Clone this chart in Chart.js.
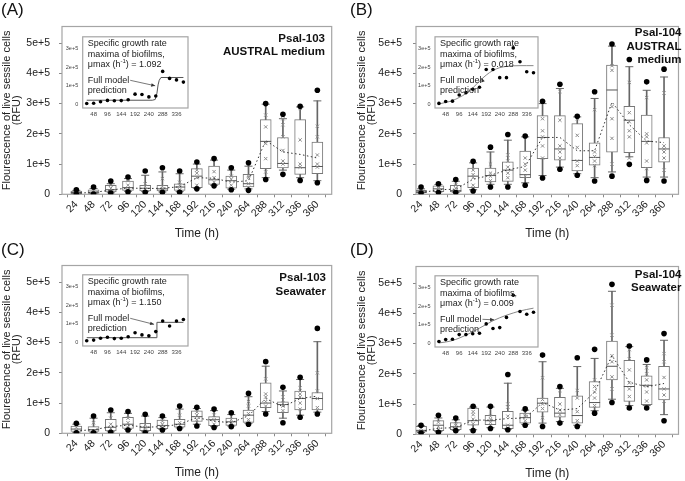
<!DOCTYPE html>
<html>
<head>
<meta charset="utf-8">
<script src="https://cdn.jsdelivr.net/npm/chart.js@4.4.1/dist/chart.umd.min.js"></script>
<style>
  body { margin: 0; background: #fff; }
  #wrap { position: relative; width: 685px; height: 481px; overflow: hidden; font-family: "Liberation Sans", Arial, sans-serif; color: #111; }
  canvas { position: absolute; }
  .tag { position: absolute; font-size: 17px; line-height: 17px; }
  .name { position: absolute; font-weight: bold; font-size: 11.5px; line-height: 13.5px; text-align: right; white-space: nowrap; }
</style>
</head>
<body>
<div id="wrap">
  <canvas id="mainA" width="342" height="240" style="left:0;top:0"></canvas>
  <canvas id="mainB" width="330" height="240" style="left:355px;top:0"></canvas>
  <canvas id="mainC" width="342" height="240" style="left:0;top:239px"></canvas>
  <canvas id="mainD" width="330" height="240" style="left:355px;top:240px"></canvas>
  <canvas id="insetA" width="134" height="92" style="left:58px;top:29px"></canvas>
  <canvas id="insetB" width="132" height="92" style="left:410px;top:29px"></canvas>
  <canvas id="insetC" width="134" height="92" style="left:58px;top:267px"></canvas>
  <canvas id="insetD" width="132" height="92" style="left:410px;top:268px"></canvas>

  <div class="tag" style="left:1px;top:1px">(A)</div>
  <div class="tag" style="left:350px;top:1px">(B)</div>
  <div class="tag" style="left:1px;top:241px">(C)</div>
  <div class="tag" style="left:350px;top:241px">(D)</div>

  <div class="name" style="right:360px;top:31.5px">Psal-103<br>AUSTRAL medium</div>
  <div class="name" style="right:3.5px;top:26.3px">Psal-104<br>AUSTRAL<br>medium</div>
  <div class="name" style="right:359px;top:271px">Psal-103<br>Seawater</div>
  <div class="name" style="right:3.5px;top:267.5px">Psal-104<br>Seawater</div>
</div>
<script>
const FONT = '"Liberation Sans", Arial, sans-serif';

// time points (h) and axis ticks; fluorescence values are in units of 1e+5 RFU
const hours = [24, 48, 72, 96, 120, 144, 168, 192, 216, 240, 264, 288, 312, 336, 360];
const yTicks = [0, 1, 2, 3, 4, 5];
const insetXTicks = [48, 96, 144, 192, 240, 288, 336];
const insetYTicks = [0, 1, 2, 3];

// (A) Psal-103, AUSTRAL medium
const aLowDot    = [0.00, 0.01, 0.04, 0.08, 0.07, 0.07, 0.07, 0.18, 0.28, 0.15, 0.13, 0.49, 0.66, 0.46, 0.38];
const aLowWhisk  = [0.01, 0.02, 0.05, 0.10, 0.09, 0.08, 0.09, 0.20, 0.30, 0.17, 0.18, 0.55, 0.80, 0.55, 0.45];
const aQ1        = [0.02, 0.03, 0.08, 0.13, 0.11, 0.11, 0.13, 0.22, 0.33, 0.20, 0.24, 0.85, 0.87, 0.66, 0.68];
const aMedian    = [0.06, 0.07, 0.15, 0.22, 0.20, 0.18, 0.24, 0.60, 0.48, 0.45, 0.35, 1.75, 1.02, 0.88, 0.92];
const aQ3        = [0.11, 0.15, 0.30, 0.44, 0.30, 0.30, 0.35, 0.85, 0.93, 0.60, 0.66, 2.47, 1.88, 2.47, 1.73];
const aHighWhisk = [0.13, 0.19, 0.35, 0.52, 0.63, 0.74, 0.68, 1.00, 1.13, 0.80, 0.93, 2.98, 2.50, 2.89, 3.09];
const aHighDot   = [0.15, 0.24, 0.44, 0.57, 0.77, 0.88, 0.77, 1.07, 1.18, 0.88, 1.04, 3.00, 2.65, 2.91, 3.44];
const aMean      = [0.04, 0.06, 0.14, 0.21, 0.19, 0.20, 0.25, 0.55, 0.53, 0.40, 0.45, 1.78, 1.40, 1.32, 1.20];
const aPoints = [[0.04, 0.08], [0.05, 0.12], [0.10, 0.20, 0.30], [0.15, 0.30, 0.45, 0.50], [0.15, 0.25, 0.35],
  [0.12, 0.25, 0.52], [0.15, 0.30, 0.40], [0.30, 0.55, 0.70, 0.80], [0.40, 0.55, 0.75], [0.30, 0.50, 0.60],
  [0.35, 0.55, 0.60], [0.74, 1.18, 1.68, 2.23, 2.62], [1.00, 1.10, 1.45, 1.90, 2.30, 2.50], [0.90, 1.00, 1.80, 2.85],
  [0.90, 1.00, 1.30, 1.90, 2.25]];
const aFitHours = [24, 252, 262, 268, 272, 276, 282, 360];
const aFit      = [0.22, 0.22, 0.26, 0.60, 1.05, 1.30, 1.45, 1.45];

// (B) Psal-104, AUSTRAL medium
const bLowDot    = [0.04, 0.06, 0.06, 0.11, 0.24, 0.24, 0.30, 0.54, 0.83, 0.63, 0.44, 0.60, 0.99, 0.46, 0.44];
const bLowWhisk  = [0.05, 0.08, 0.07, 0.15, 0.33, 0.33, 0.38, 0.62, 0.90, 0.68, 0.55, 0.74, 1.24, 0.57, 0.57];
const bQ1        = [0.05, 0.09, 0.08, 0.22, 0.41, 0.43, 0.55, 1.18, 1.13, 0.77, 0.96, 1.39, 1.38, 0.88, 1.06];
const bMedian    = [0.08, 0.18, 0.12, 0.60, 0.62, 0.80, 0.65, 1.88, 1.50, 1.12, 1.22, 3.45, 2.45, 1.75, 1.50];
const bQ3        = [0.13, 0.28, 0.30, 0.87, 0.87, 1.07, 1.43, 2.60, 2.60, 2.34, 1.70, 4.27, 2.91, 2.62, 1.88];
const bHighWhisk = [0.18, 0.32, 0.43, 1.04, 1.40, 1.79, 1.90, 3.00, 3.50, 2.56, 3.17, 4.90, 4.22, 3.44, 3.88];
const bHighDot   = [0.24, 0.35, 0.49, 1.09, 1.56, 1.98, 1.93, 3.08, 3.64, 2.58, 3.39, 4.97, 4.46, 3.72, 4.14];
const bMean      = [0.05, 0.15, 0.17, 0.50, 0.63, 0.81, 0.92, 1.88, 1.88, 1.44, 1.44, 3.05, 2.30, 1.76, 1.71];
const bPoints = [[0.06, 0.10], [0.10, 0.20, 0.25], [0.10, 0.20, 0.30], [0.30, 0.55, 0.65, 0.80], [0.45, 0.60, 0.70, 1.00],
  [0.55, 0.70, 0.90, 1.10, 1.30], [0.60, 0.80, 1.00, 1.20], [1.20, 1.60, 1.90, 2.10, 2.50], [1.20, 1.40, 1.60, 2.45, 3.40],
  [0.95, 1.10, 1.55, 1.95, 2.50], [0.95, 1.10, 1.25, 1.40, 2.80], [1.00, 1.85, 2.50, 2.90, 4.10, 4.25],
  [1.20, 1.90, 2.10, 2.40, 2.70, 3.70], [0.85, 1.10, 1.70, 1.90, 2.00, 3.20], [0.80, 1.20, 1.40, 1.50, 1.60, 3.35]];
const bFitHours = hours;
const bFit      = [0.02, 0.10, 0.20, 0.37, 0.58, 0.88, 1.25, 1.58, 1.83, 1.98, 2.05, 2.08, 2.09, 2.09, 2.09];

// (C) Psal-103, Seawater
const cLowDot    = [0.02, 0.02, 0.03, 0.11, 0.02, 0.11, 0.16, 0.24, 0.19, 0.22, 0.30, 0.64, 0.35, 0.53, 0.64];
const cLowWhisk  = [0.03, 0.03, 0.05, 0.13, 0.05, 0.13, 0.18, 0.30, 0.22, 0.24, 0.33, 0.72, 0.50, 0.60, 0.70];
const cQ1        = [0.06, 0.06, 0.08, 0.16, 0.09, 0.15, 0.20, 0.39, 0.25, 0.26, 0.36, 0.85, 0.68, 0.77, 0.77];
const cMedian    = [0.14, 0.12, 0.20, 0.30, 0.20, 0.26, 0.30, 0.55, 0.45, 0.38, 0.60, 1.00, 0.95, 1.15, 1.15];
const cQ3        = [0.24, 0.22, 0.46, 0.53, 0.33, 0.44, 0.46, 0.74, 0.55, 0.50, 0.77, 1.67, 1.04, 1.40, 1.35];
const cHighWhisk = [0.30, 0.50, 0.68, 0.66, 0.57, 0.52, 0.80, 0.82, 0.75, 0.62, 1.21, 2.22, 1.40, 1.78, 3.03];
const cHighDot   = [0.33, 0.57, 0.77, 0.72, 0.63, 0.57, 0.90, 0.86, 0.80, 0.68, 1.32, 2.37, 1.52, 1.85, 3.47];
const cMean      = [0.08, 0.12, 0.22, 0.27, 0.20, 0.22, 0.30, 0.52, 0.40, 0.35, 0.58, 1.15, 0.88, 1.15, 1.23];
const cPoints = [[0.08, 0.20], [0.08, 0.35], [0.15, 0.30, 0.50], [0.20, 0.35, 0.50], [0.10, 0.18, 0.28],
  [0.20, 0.30, 0.40], [0.25, 0.35, 0.60], [0.45, 0.60, 0.70], [0.30, 0.45, 0.60], [0.30, 0.35, 0.45],
  [0.45, 0.65, 0.90, 1.05], [0.90, 1.05, 1.20, 1.30, 1.80], [0.75, 0.90, 1.00, 1.20], [0.80, 1.00, 1.20, 1.30, 1.50],
  [0.85, 1.15, 1.40, 2.00]];
const cFitHours = [24, 265, 268, 360];
const cFit      = [0.25, 0.25, 1.08, 1.08];

// (D) Psal-104, Seawater
const dLowDot    = [0.04, 0.07, 0.12, 0.12, 0.19, 0.15, 0.30, 0.26, 0.37, 0.26, 0.70, 1.05, 0.87, 0.87, 0.45];
const dLowWhisk  = [0.06, 0.09, 0.13, 0.15, 0.22, 0.17, 0.33, 0.37, 0.42, 0.30, 0.78, 1.16, 0.95, 0.95, 0.65];
const dQ1        = [0.08, 0.12, 0.15, 0.30, 0.32, 0.19, 0.37, 0.73, 0.57, 0.37, 0.89, 1.80, 1.09, 0.98, 1.14];
const dMedian    = [0.13, 0.30, 0.25, 0.45, 0.45, 0.30, 0.55, 1.03, 0.70, 0.62, 1.05, 2.25, 1.58, 1.62, 1.50];
const dQ3        = [0.26, 0.45, 0.39, 0.87, 0.63, 0.76, 0.70, 1.20, 1.22, 1.27, 1.74, 3.08, 2.45, 1.93, 2.25];
const dHighWhisk = [0.28, 0.54, 0.48, 0.90, 0.90, 1.69, 0.80, 2.40, 1.52, 2.24, 2.51, 4.73, 2.90, 2.31, 3.11];
const dHighDot   = [0.30, 0.63, 0.54, 0.93, 0.93, 1.98, 0.84, 2.62, 1.58, 2.53, 2.81, 4.96, 2.92, 2.46, 3.33];
const dMean      = [0.10, 0.20, 0.22, 0.47, 0.47, 0.52, 0.54, 1.05, 0.80, 0.85, 1.40, 2.60, 1.72, 1.57, 1.68];
const dPoints = [[0.10, 0.20], [0.15, 0.25, 0.40], [0.20, 0.30, 0.35], [0.35, 0.50, 0.65, 0.75], [0.40, 0.50, 0.60],
  [0.30, 0.60, 0.90, 1.00], [0.45, 0.60, 0.65], [0.55, 0.85, 1.00, 1.15, 1.87], [0.65, 0.80, 1.00, 1.45],
  [0.45, 0.75, 1.20, 1.45], [0.95, 1.20, 1.40, 1.58, 1.80], [1.50, 1.90, 2.40, 2.60, 3.28, 4.27],
  [1.25, 1.50, 1.70, 2.13, 2.50, 2.80], [1.10, 1.40, 1.60, 1.80, 2.00, 2.20], [1.10, 1.30, 1.50, 1.88, 2.40, 2.67]];
const dFitHours = hours;
const dFit      = [0.02, 0.07, 0.15, 0.28, 0.44, 0.62, 0.82, 1.02, 1.22, 1.38, 1.52, 1.64, 1.75, 1.83, 1.90];

function pts(arr) { return arr.map((v, i) => ({ x: hours[i], y: v })); }
function e5(v) { return v === 0 ? '0' : v + 'e+5'; }

// gray frame round the plot area
const frame = {
  id: 'frame',
  beforeDatasetsDraw(chart) {
    const a = chart.chartArea, ctx = chart.ctx;
    ctx.save();
    ctx.fillStyle = '#fff';
    ctx.fillRect(a.left, a.top, a.width, a.height);
    ctx.strokeStyle = '#a5a5a5';
    ctx.lineWidth = 1.2;
    ctx.strokeRect(a.left, a.top, a.width, a.height);
    ctx.restore();
  }
};

// text block and arrow inside each inset
const insetNote = {
  id: 'insetNote',
  afterDatasetsDraw(chart, args, o) {
    const a = chart.chartArea, ctx = chart.ctx;
    const x0 = a.left + 5;
    ctx.save();
    ctx.fillStyle = '#222';
    ctx.textAlign = 'left';
    ctx.textBaseline = 'middle';
    ctx.font = '9px ' + FONT;
    ctx.fillText('Specific growth rate', x0, a.top + 7);
    ctx.fillText('maxima of biofilms,', x0, a.top + 17.5);
    let x = x0;
    const y = a.top + 28;
    ctx.fillText('\u03bcmax (h', x, y);
    x += ctx.measureText('\u03bcmax (h').width;
    ctx.font = '6px ' + FONT;
    ctx.fillText('-1', x, y - 3.5);
    x += ctx.measureText('-1').width;
    ctx.font = '9px ' + FONT;
    ctx.fillText(') = ' + o.mu, x, y);
    ctx.fillText('Full model', x0, a.top + 43.5);
    ctx.fillText('prediction', x0, a.top + 53.5);

    const sx = x0 + ctx.measureText('Full model').width + 1, sy = a.top + 43.5;
    const tx = chart.scales.x.getPixelForValue(o.tip[0]);
    const ty = chart.scales.y.getPixelForValue(o.tip[1]);
    const ang = Math.atan2(ty - sy, tx - sx);
    ctx.strokeStyle = '#555';
    ctx.lineWidth = 0.8;
    ctx.beginPath();
    ctx.moveTo(sx, sy);
    ctx.lineTo(tx, ty);
    ctx.stroke();
    ctx.fillStyle = '#333';
    ctx.beginPath();
    ctx.moveTo(tx, ty);
    ctx.lineTo(tx - 4 * Math.cos(ang) + 1.8 * Math.sin(ang), ty - 4 * Math.sin(ang) - 1.8 * Math.cos(ang));
    ctx.lineTo(tx - 4 * Math.cos(ang) - 1.8 * Math.sin(ang), ty - 4 * Math.sin(ang) + 1.8 * Math.cos(ang));
    ctx.closePath();
    ctx.fill();
    ctx.restore();
  }
};

// short outward tick marks, no grid
const tickMarks = { display: true, drawOnChartArea: false, drawTicks: true, tickLength: 3, color: '#8a8a8a', lineWidth: 1 };

function drawMain(id, g, s) {
  new Chart(document.getElementById(id), {
    type: 'scatter',
    data: {
      datasets: [
        { type: 'line', data: pts(s.mean), borderColor: '#333', borderWidth: 1, borderDash: [1.5, 2.5], pointRadius: 0, fill: false, order: 1 },
        { type: 'bar', data: hours.map((h, i) => ({ x: h, y: [s.lowWhisk[i], s.highWhisk[i]] })),
          barThickness: 1, backgroundColor: '#666', grouped: false, order: 8 },
        { type: 'bar', data: hours.map((h, i) => ({ x: h, y: [s.q1[i], s.q3[i]] })),
          barThickness: 11, backgroundColor: '#fff', borderColor: '#777', borderWidth: 1, borderSkipped: false, grouped: false, order: 7 },
        { data: pts(s.lowWhisk).concat(pts(s.highWhisk)), pointStyle: 'line', pointRadius: 4, pointBorderColor: '#666', pointBorderWidth: 1, order: 6 },
        { data: pts(s.median), pointStyle: 'line', pointRadius: 5.5, pointBorderColor: '#555', pointBorderWidth: 1, order: 5 },
        { data: s.points.flatMap((arr, i) => arr.map(v => ({ x: hours[i], y: v }))),
          pointStyle: 'crossRot', pointRadius: 2.3, pointBorderColor: '#8c8c8c', pointBorderWidth: 1, order: 4 },
        { data: pts(s.lowDot).concat(pts(s.highDot)), pointStyle: 'circle', pointRadius: 2.8,
          pointBackgroundColor: '#000', pointBorderColor: '#000', pointBorderWidth: 0, order: 0 }
      ]
    },
    options: {
      responsive: false,
      animation: false,
      events: [],
      layout: { padding: { left: 0, right: g.padR, top: 26.5, bottom: 0 } },
      plugins: { legend: { display: false }, tooltip: { enabled: false } },
      scales: {
        x: {
          type: 'linear', min: g.xMin, max: g.xMax, offset: false,
          afterBuildTicks: sc => { sc.ticks = hours.map(v => ({ value: v })); },
          afterFit: sc => { sc.height = 45.7; },
          grid: tickMarks,
          border: { display: false },
          ticks: { autoSkip: false, minRotation: 45, maxRotation: 45, padding: 1, color: '#222', font: { size: 10.5, family: FONT } },
          title: { display: true, text: 'Time (h)', color: '#222', padding: 0, font: { size: 12, family: FONT, lineHeight: 1 } }
        },
        y: {
          min: 0, max: 5.55,
          afterBuildTicks: sc => { sc.ticks = yTicks.map(v => ({ value: v })); },
          afterFit: sc => { sc.width = g.leftW; },
          grid: tickMarks,
          border: { display: false },
          ticks: { padding: g.tickPad, color: '#222', font: { size: 10.5, family: FONT }, callback: e5 },
          title: { display: true, text: ['Flourescence of live sessile cells', '(RFU)'], color: '#222',
                   padding: { top: 2.5, bottom: 0 }, font: { size: 11, family: FONT, lineHeight: 0.9 } }
        }
      }
    },
    plugins: [frame]
  });
}

function drawInset(id, g, mean, fitHours, fit, look) {
  new Chart(document.getElementById(id), {
    type: 'scatter',
    data: {
      datasets: [
        { type: 'line', data: fitHours.map((h, i) => ({ x: h, y: fit[i] })), borderColor: look.line, borderWidth: 1,
          pointRadius: 0, fill: false, cubicInterpolationMode: look.smooth ? 'monotone' : 'default', order: 1 },
        { data: pts(mean), pointRadius: 1.8, pointBackgroundColor: '#000', pointBorderWidth: 0, order: 0 }
      ]
    },
    options: {
      responsive: false,
      animation: false,
      events: [],
      layout: { padding: { left: 0, right: 2.7, top: 2, bottom: 0 } },
      plugins: { legend: { display: false }, tooltip: { enabled: false }, insetNote: { mu: look.mu, tip: look.tip } },
      scales: {
        x: {
          type: 'linear', min: 10, max: 376, offset: false,
          afterBuildTicks: sc => { sc.ticks = insetXTicks.map(v => ({ value: v })); },
          afterFit: sc => { sc.height = 13; },
          grid: { display: false, drawTicks: false },
          border: { display: false },
          ticks: { autoSkip: false, maxRotation: 0, padding: 3, color: '#444', font: { size: 6, family: FONT } }
        },
        y: {
          min: -0.2, max: 3.65,
          afterBuildTicks: sc => { sc.ticks = insetYTicks.map(v => ({ value: v })); },
          afterFit: sc => { sc.width = g.leftW; },
          grid: { display: false, drawTicks: false },
          border: { display: false },
          ticks: { padding: 4.5, color: '#444', font: { size: 5.5, family: FONT }, callback: e5 }
        }
      }
    },
    plugins: [frame, insetNote]
  });
}

const leftPanel  = { leftW: 62, padR: 10.3, tickPad: 9, xMin: 4, xMax: 380 };
const rightPanel = { leftW: 61, padR: 2, tickPad: 11, xMin: 17, xMax: 380 };

drawMain('mainA', leftPanel, { lowDot: aLowDot, lowWhisk: aLowWhisk, q1: aQ1, median: aMedian, q3: aQ3, highWhisk: aHighWhisk, highDot: aHighDot, mean: aMean, points: aPoints });
drawMain('mainB', rightPanel, { lowDot: bLowDot, lowWhisk: bLowWhisk, q1: bQ1, median: bMedian, q3: bQ3, highWhisk: bHighWhisk, highDot: bHighDot, mean: bMean, points: bPoints });
drawMain('mainC', leftPanel, { lowDot: cLowDot, lowWhisk: cLowWhisk, q1: cQ1, median: cMedian, q3: cQ3, highWhisk: cHighWhisk, highDot: cHighDot, mean: cMean, points: cPoints });
drawMain('mainD', rightPanel, { lowDot: dLowDot, lowWhisk: dLowWhisk, q1: dQ1, median: dMedian, q3: dQ3, highWhisk: dHighWhisk, highDot: dHighDot, mean: dMean, points: dPoints });

drawInset('insetA', { leftW: 24.7 }, aMean, aFitHours, aFit, { line: '#555', smooth: false, mu: '1.092', tip: [262, 1.0] });
drawInset('insetB', { leftW: 25 },   bMean, bFitHours, bFit, { line: '#888', smooth: true,  mu: '0.018', tip: [176, 1.42] });
drawInset('insetC', { leftW: 24.7 }, cMean, cFitHours, cFit, { line: '#555', smooth: false, mu: '1.150', tip: [258, 0.97] });
drawInset('insetD', { leftW: 25 },   dMean, dFitHours, dFit, { line: '#888', smooth: true,  mu: '0.009', tip: [220, 1.27] });
</script>
</body>
</html>
